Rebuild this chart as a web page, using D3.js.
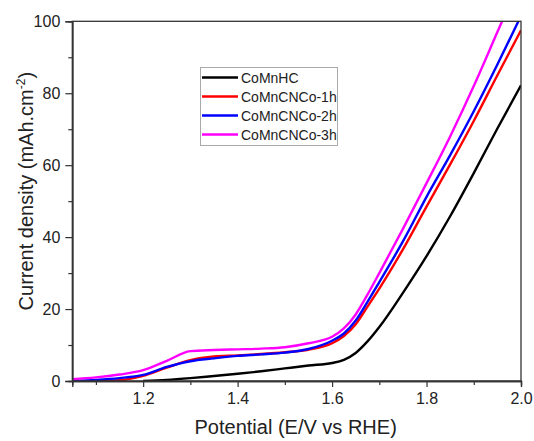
<!DOCTYPE html>
<html>
<head>
<meta charset="utf-8">
<script src="https://cdn.jsdelivr.net/npm/d3@7"></script>
<style>
  body { margin: 0; background: #fff; }
  text { font-family: "Liberation Sans", Arial, sans-serif; fill: #222; }
</style>
</head>
<body>
<div id="graph1"></div>
<script>
// potential sweep (V vs RHE)
const potential = [1.05, 1.1, 1.15, 1.2, 1.25, 1.3, 1.35, 1.4, 1.45, 1.5, 1.55, 1.6, 1.625, 1.65, 1.675, 1.7, 1.75, 1.8, 1.85, 1.9, 1.95, 2.0];

// current density, one list per sample (null = not drawn)
const comnhc   = [null, null, null, 0, 0.3, 0.8, 1.4, 2.0, 2.7, 3.5, 4.3, 5.0, 5.9, 7.8, 11.0, 15.0, 24.5, 34.7, 45.8, 57.8, 70.2, 82.2];
const comncnco1 = [null, 0, 0.2, 1.4, 3.7, 5.8, 6.8, 7.1, 7.5, 8.0, 8.7, 10.5, 12.5, 15.8, 20.7, 25.7, 36.6, 48.5, 60.2, 72.3, 85.0, 97.5];
const comncnco2 = [0, 0.3, 0.8, 1.7, 3.9, 5.5, 6.3, 7.0, 7.4, 7.9, 8.9, 11.2, 13.2, 16.8, 22.0, 27.5, 38.8, 51.2, 62.8, 75.0, 88.0, 101.5];
const comncnco3 = [0.5, 1.0, 1.8, 3.0, 5.6, 8.3, 8.6, 8.8, 9.0, 9.4, 10.5, 12.3, 14.6, 18.5, 24.0, 30.0, 42.3, 55.0, 68.0, 82.0, 97.0, 112];

const seriesNames = ["CoMnHC", "CoMnCNCo-1h", "CoMnCNCo-2h", "CoMnCNCo-3h"];
const seriesColors = ["#000000", "#ff0000", "#0000ff", "#ff00ff"];
const seriesValues = [comnhc, comncnco1, comncnco2, comncnco3];

const xMajor = [1.2, 1.4, 1.6, 1.8, 2.0];
const xMinor = [1.1, 1.3, 1.5, 1.7, 1.9];
const yMajor = [0, 20, 40, 60, 80, 100];
const yMinor = [10, 30, 50, 70, 90];

const width = 534, height = 441;
const margin = {left: 72.3, top: 21.3, right: 13, bottom: 60};

let svg = d3.select("#graph1")
    .append("svg")
    .attr("width", width)
    .attr("height", height);

let x = d3.scaleLinear()
    .domain([1.05, 2.0])
    .range([margin.left, width - margin.right]);
let y = d3.scaleLinear()
    .domain([0, 100])
    .range([height - margin.bottom, margin.top]);

svg.append("clipPath").attr("id", "plotclip")
    .append("rect")
    .attr("x", x(1.05)).attr("y", y(100))
    .attr("width", x(2.0) - x(1.05)).attr("height", y(0) - y(100));

// curves
let line = d3.line()
    .defined(d => d[1] !== null)
    .x(d => x(d[0]))
    .y(d => y(d[1]))
    .curve(d3.curveMonotoneX);

let curves = svg.append("g").attr("clip-path", "url(#plotclip)");
seriesValues.forEach((vals, i) => {
    curves.append("path")
        .datum(potential.map((p, j) => [p, vals[j]]))
        .attr("fill", "none")
        .attr("stroke", seriesColors[i])
        .attr("stroke-width", 2.4)
        .attr("d", line);
});

// frame
svg.append("rect")
    .attr("x", x(1.05)).attr("y", y(100))
    .attr("width", x(2.0) - x(1.05)).attr("height", y(0) - y(100))
    .attr("fill", "none")
    .attr("stroke", "#333")
    .attr("stroke-width", 1.3);

// axes
svg.append("g")
    .attr("transform", `translate(0, ${y(0)})`)
    .call(d3.axisBottom(x).tickValues(xMajor).tickSize(6).tickPadding(6).tickFormat(d3.format(".1f")));
svg.append("g")
    .attr("transform", `translate(0, ${y(0)})`)
    .call(d3.axisBottom(x).tickValues(xMinor).tickSize(4).tickFormat(""));
svg.append("g")
    .attr("transform", `translate(${x(1.05)}, 0)`)
    .call(d3.axisLeft(y).tickValues(yMajor).tickSize(7).tickPadding(5));
svg.append("g")
    .attr("transform", `translate(${x(1.05)}, 0)`)
    .call(d3.axisLeft(y).tickValues(yMinor).tickSize(4).tickFormat(""));

svg.selectAll(".domain").attr("stroke", "#333").attr("stroke-width", 1.3);
svg.selectAll(".tick line").attr("stroke", "#333").attr("stroke-width", 1.2);
svg.selectAll(".tick text")
    .style("font-family", "'Liberation Sans', Arial, sans-serif")
    .style("font-size", "16px")
    .attr("fill", "#222");

// axis titles
svg.append("text")
    .attr("x", (x(1.05) + x(2.0)) / 2 - 1)
    .attr("y", 434)
    .style("text-anchor", "middle")
    .style("font-size", "20px")
    .text("Potential (E/V vs RHE)");

let yt = svg.append("text")
    .attr("transform", `translate(33, ${(y(0) + y(100)) / 2 - 10}) rotate(-90)`)
    .style("text-anchor", "middle")
    .style("font-size", "20px");
yt.append("tspan").text("Current density (mAh.cm");
yt.append("tspan").attr("dy", -8).style("font-size", "12px").text("-2");
yt.append("tspan").attr("dy", 8).text(")");

// legend
let legend = svg.append("g");
legend.append("rect")
    .attr("x", 200.5).attr("y", 67.5)
    .attr("width", 137).attr("height", 78)
    .attr("fill", "#fff")
    .attr("stroke", "#aaa")
    .attr("stroke-width", 1);
seriesNames.forEach((name, i) => {
    let ry = 77.5 + i * 19;
    legend.append("line")
        .attr("x1", 202).attr("x2", 238)
        .attr("y1", ry).attr("y2", ry)
        .attr("stroke", seriesColors[i])
        .attr("stroke-width", 2.4);
    legend.append("text")
        .attr("x", 241).attr("y", ry + 5)
        .style("font-size", "14px")
        .text(name);
});
</script>
</body>
</html>
